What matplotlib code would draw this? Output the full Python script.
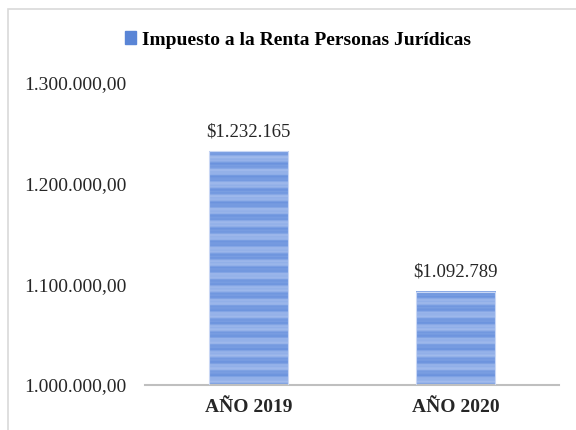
import matplotlib.pyplot as plt
import numpy as np
from matplotlib.patches import Rectangle
from matplotlib.colors import LinearSegmentedColormap
from matplotlib.ticker import FuncFormatter

years = ['AÑO 2019', 'AÑO 2020']
values = [1232165, 1092789]
value_labels = ['$1.232.165', '$1.092.789']
series_name = 'Impuesto a la Renta Personas Jurídicas'

plt.rcParams['font.family'] = ['Liberation Serif', 'DejaVu Serif']

fig = plt.figure(figsize=(5.76, 4.30), dpi=100)
# light chart frame
fig.patches.append(Rectangle((8 / 576, -0.02), 1.0, 1 - 9 / 430 + 0.02, transform=fig.transFigure,
                             fill=False, edgecolor='#d9d9d9', lw=1.2))
ax = fig.add_axes([145 / 576, 45 / 430, 414 / 576, 302 / 430])

base = 1000000
x = np.arange(len(years))
width = 0.386
bars = ax.bar(x, values, width=width, color='none', edgecolor='none', zorder=2)

# striped blue fill, soft bands
cmap = LinearSegmentedColormap.from_list('stripe', ['#5b86d8', '#7399e0', '#98b4ea', '#b2c7f0'])
for b in bars:
    x0, w, h = b.get_x(), b.get_width(), b.get_height()
    yy = np.linspace(h, base, 600) / 1000.0
    pattern = (0.5 + 0.22 * np.sin(yy * 2 * np.pi / 13.0) + 0.1 * np.sin(yy * 2 * np.pi / 4.3)
               + 0.06 * np.sin(yy * 2 * np.pi / 1.7)).reshape(-1, 1)
    ax.imshow(pattern, cmap=cmap, vmin=0, vmax=1, aspect='auto', extent=(x0, x0 + w, base, h),
              zorder=2, interpolation='bilinear')
    ax.add_patch(Rectangle((x0, base), w, h - base, fill=False, edgecolor='#c9d7f4', lw=0.8, zorder=3))

for xi, v, lab in zip(x, values, value_labels):
    ax.text(xi, v + 11000, lab, ha='center', va='bottom', fontsize=13.5, color='#262626')

ax.set_xlim(-0.5, 1.5)
ax.set_ylim(base, 1300000)
ax.set_yticks([1000000, 1100000, 1200000, 1300000])
ax.yaxis.set_major_formatter(FuncFormatter(lambda v, p: f'{v:,.2f}'.replace(',', 'X').replace('.', ',').replace('X', '.')))
ax.set_xticks(x)
ax.set_xticklabels(years, fontweight='bold', fontsize=14)
ax.tick_params(axis='y', length=0, labelsize=14, pad=13, labelcolor='#262626')
ax.tick_params(axis='x', length=0, pad=10, labelcolor='#262626')
for s in ['top', 'right', 'left']:
    ax.spines[s].set_visible(False)
ax.spines['bottom'].set_color('#bfbfbf')
ax.spines['bottom'].set_linewidth(1.5)

fig.legend(handles=[Rectangle((0, 0), 1, 1, color='#5a85d6')], labels=[series_name],
           loc='center', bbox_to_anchor=(298 / 576, 1 - 40 / 430), frameon=False,
           prop={'weight': 'bold', 'size': 14}, handlelength=0.6, handleheight=0.6,
           handletextpad=0.3)

fig.savefig('out.png', dpi=100, facecolor='white')
